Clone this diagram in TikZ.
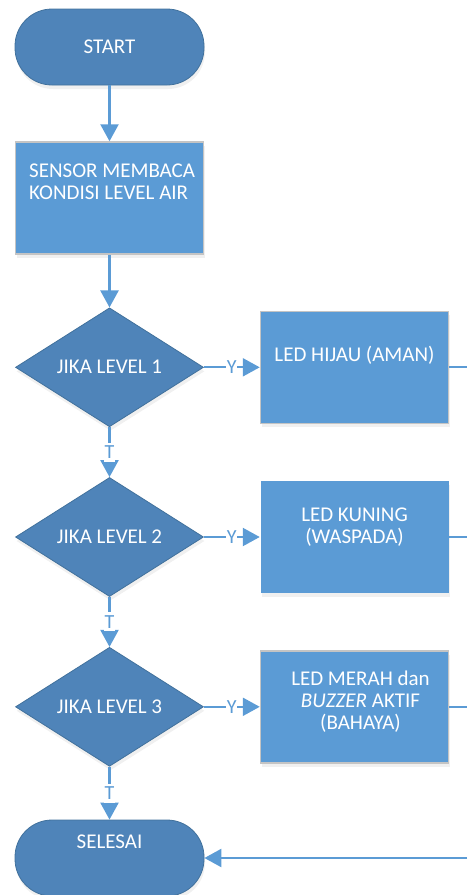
\documentclass[tikz,border=0pt]{standalone}
\usepackage{fontspec}
\setmainfont{Carlito}
\usetikzlibrary{shapes.geometric,arrows.meta,shadows}

\definecolor{termblue}{HTML}{4F84B9}
\definecolor{boxblue}{HTML}{5B9BD5}
\definecolor{edgeblue}{HTML}{41719C}
\definecolor{boxedge}{HTML}{C4C4C4}

\tikzset{
  soft/.style={drop shadow={opacity=0.12,shadow xshift=1pt,shadow yshift=-4pt}},
  term/.style={rectangle, rounded corners=37pt, fill=termblue, draw=edgeblue,
    line width=0.8pt, minimum width=189pt, minimum height=76pt, soft,
    text=white, font=\fontsize{21}{22}\selectfont},
  proc/.style={rectangle, fill=boxblue, draw=boxedge, line width=1.5pt,
    minimum width=188pt, minimum height=112pt, soft},
  decide/.style={diamond, fill=termblue, draw=edgeblue, line width=0.8pt,
    minimum width=188pt, minimum height=112pt, inner sep=0pt, soft,
    text=white, font=\fontsize{21}{22}\selectfont},
  txt/.style={text=white, font=\fontsize{21}{22}\selectfont, align=center, inner sep=0pt},
  link/.style={draw=boxblue, line width=2.3pt},
  flow/.style={link, -{Triangle[width=18pt,length=17pt]}},
  tag/.style={text=boxblue, fill=white, font=\fontsize{20}{22}\selectfont,
    inner xsep=0.5pt, inner ysep=3pt}
}

\begin{document}
\begin{tikzpicture}[x=1pt,y=1pt]
  \useasboundingbox (0,0) rectangle (467,-895);

  % main column
  \node[term] (start) at (109.5,-47) {START};
  \node[proc] (sensor) at (109.5,-198) {};
  \node[txt, align=left, anchor=west] (sensortxt) at (29,-182) {SENSOR MEMBACA\\KONDISI LEVEL AIR};
  \node[decide] (dec1) at (109.5,-367.3) {JIKA LEVEL 1};
  \node[decide] (dec2) at (109.5,-537) {JIKA LEVEL 2};
  \node[decide] (dec3) at (109.5,-706.8) {JIKA LEVEL 3};
  \node[term] (selesai) at (109.5,-858) {};
  \node[txt] (selesaitxt) at (109.5,-842) {SELESAI};

  % output boxes
  \node[proc] (hijau) at (354.5,-367.3) {};
  \node[txt] (hijautxt) at (354.5,-355.3) {LED HIJAU (AMAN)};
  \node[proc, draw=none] (kuning) at (354.5,-537) {};
  \node[txt] (kuningtxt) at (354.5,-527) {LED KUNING\\(WASPADA)};
  \node[proc] (merah) at (354.5,-706.8) {};
  \node[txt] (merahtxt) at (360.5,-701.8) {LED MERAH dan\\\textit{BUZZER} AKTIF\\(BAHAYA)};

  % loose ends at the right border
  \coordinate (out1) at (467,-367.3);
  \coordinate (out2) at (467,-537);
  \coordinate (out3) at (467,-706.8);
  \coordinate (back) at (467,-858);

  \draw[flow] (start) -- (sensor);
  \draw[flow] (sensor) -- (dec1);
  \draw[flow] (dec1) -- node[tag] {T} (dec2);
  \draw[flow] (dec2) -- node[tag] {T} (dec3);
  \draw[flow] (dec3) -- node[tag] {T} (selesai);

  \draw[flow] (dec1.east) -- node[tag] {Y} (hijau.west);
  \draw[flow] (dec2.east) -- node[tag] {Y} (kuning.west);
  \draw[flow] (dec3.east) -- node[tag] {Y} (merah.west);

  \draw[link] (hijau.east) -- (out1);
  \draw[link] (kuning.east) -- (out2);
  \draw[link] (merah.east) -- (out3);
  \draw[flow] (back) -- (selesai.east);
\end{tikzpicture}
\end{document}
